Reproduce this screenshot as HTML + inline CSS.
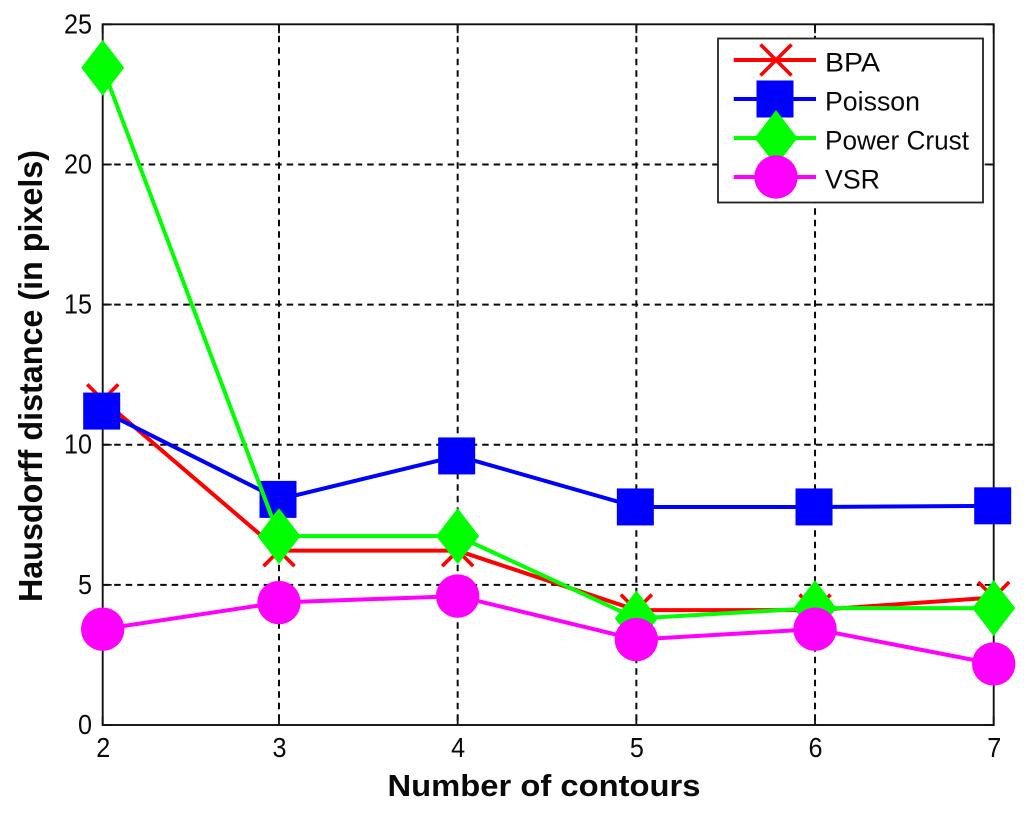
<!DOCTYPE html>
<html lang="en">
<head>
<meta charset="utf-8">
<title>Hausdorff distance vs number of contours</title>
<style>
html,body{margin:0;padding:0;background:#fff;width:1024px;height:824px;overflow:hidden}
svg{display:block}
text{font-family:"Liberation Sans",sans-serif;fill:#0a0a0a}
</style>
</head>
<body>
<svg id="chart" width="1024" height="824" viewBox="0 0 1024 824" xmlns="http://www.w3.org/2000/svg">
  <rect x="0" y="0" width="1024" height="824" fill="#fff"/>
  <g id="grid"></g>
  <g id="axes"></g>
  <g id="series"></g>
  <text x="544" y="796" text-anchor="middle" font-size="31" font-weight="bold" textLength="313" lengthAdjust="spacingAndGlyphs">Number of contours</text>
  <text transform="translate(42,376) rotate(-90)" text-anchor="middle" font-size="33" font-weight="bold" textLength="452" lengthAdjust="spacingAndGlyphs">Hausdorff distance (in pixels)</text>
  <g id="legend">
    <rect x="718" y="38.5" width="265" height="164" fill="#fff" stroke="#222" stroke-width="1.8"/>
  </g>
</svg>
<script>
const contours = [2, 3, 4, 5, 6, 7];
const yTicks = [0, 5, 10, 15, 20, 25];
const bpa = [11.6, 6.22, 6.22, 4.1, 4.1, 4.55];
const poisson = [11.2, 8.05, 9.6, 7.78, 7.78, 7.82];
const powerCrust = [23.45, 6.74, 6.74, 3.8, 4.17, 4.17];
const vsr = [3.42, 4.37, 4.6, 3.05, 3.42, 2.18];
const seriesNames = ['BPA', 'Poisson', 'Power Crust', 'VSR'];

const NS = 'http://www.w3.org/2000/svg';
const plot = {left: 102.7, right: 993.7, top: 24.3, bottom: 725};
const xMin = contours[0];
const xMax = contours[contours.length - 1];
const yMax = yTicks[yTicks.length - 1];
const x3Pixel = 279;
/* The source axis has a slightly shorter first interval, so the scale has two linear parts. */
function xScale(v) {
  if (v <= xMin + 1) return plot.left + (v - xMin) * (x3Pixel - plot.left);
  return x3Pixel + (v - xMin - 1) / (xMax - xMin - 1) * (plot.right - x3Pixel);
}
function yScale(v) { return plot.bottom - v / yMax * (plot.bottom - plot.top); }

function make(parent, tag, attrs) {
  const el = document.createElementNS(NS, tag);
  for (const k in attrs) el.setAttribute(k, attrs[k]);
  parent.appendChild(el);
  return el;
}

function drawMarker(parent, kind, cx, cy, color) {
  let m;
  if (kind === 'x') {
    const r = 15.5;
    m = make(parent, 'path', {d: `M${cx - r} ${cy - r}L${cx + r} ${cy + r}M${cx - r} ${cy + r}L${cx + r} ${cy - r}`, stroke: color, 'stroke-width': 3.6, fill: 'none'});
  } else if (kind === 'square') {
    m = make(parent, 'rect', {x: cx - 19.5, y: cy - 18.5, width: 37, height: 37, fill: color});
  } else if (kind === 'diamond') {
    m = make(parent, 'polygon', {points: `${cx},${cy - 28} ${cx + 21.5},${cy} ${cx},${cy + 28} ${cx - 21.5},${cy}`, fill: color});
  } else {
    m = make(parent, 'circle', {cx: cx, cy: cy, r: 21.7, fill: color});
  }
  return m;
}

const gridG = document.getElementById('grid');
const axesG = document.getElementById('axes');

/* grid */
contours.slice(1, -1).forEach(function (c) {
  const line = make(gridG, 'line', {x1: xScale(c), x2: xScale(c), y1: plot.top, y2: plot.bottom, stroke: '#0a0a0a', 'stroke-width': 2, 'stroke-dasharray': '6.5 5'});
  
  
});
yTicks.slice(1, -1).forEach(function (t) {
  const line = make(gridG, 'line', {x1: plot.left, x2: plot.right, y1: yScale(t), y2: yScale(t), stroke: '#0a0a0a', 'stroke-width': 2, 'stroke-dasharray': '6.5 5'});
  
  
});

/* frame */
const frame = make(axesG, 'rect', {x: plot.left, y: plot.top, width: plot.right - plot.left, height: plot.bottom - plot.top, fill: 'none', stroke: '#111', 'stroke-width': 1.9});



/* ticks and labels */
contours.forEach(function (c) {
  const x = xScale(c);
  const t1 = make(axesG, 'path', {d: `M${x} ${plot.bottom}v-9M${x} ${plot.top}v9`, stroke: '#111', 'stroke-width': 1.8, fill: 'none'});
  
  
  const label = make(axesG, 'text', {x: x + 0.5, y: 757, 'text-anchor': 'middle', 'font-size': 28, textLength: 14, lengthAdjust: 'spacingAndGlyphs'});
  
  
  label.textContent = c;
});
yTicks.forEach(function (t) {
  const y = yScale(t);
  const t1 = make(axesG, 'path', {d: `M${plot.left} ${y}h9M${plot.right} ${y}h-9`, stroke: '#111', 'stroke-width': 1.8, fill: 'none'});
  
  
  const label = make(axesG, 'text', {x: 92, y: y + 9, 'text-anchor': 'end', 'font-size': 28, textLength: 14 * String(t).length, lengthAdjust: 'spacingAndGlyphs'});
  
  
  label.textContent = t;
});

/* series */
const seriesList = [
  {name: seriesNames[0], values: bpa, color: '#ff0000', kind: 'x', labelWidth: 55},
  {name: seriesNames[1], values: poisson, color: '#0000ff', kind: 'square', labelWidth: 95},
  {name: seriesNames[2], values: powerCrust, color: '#00ff00', kind: 'diamond', labelWidth: 144},
  {name: seriesNames[3], values: vsr, color: '#ff00ff', kind: 'circle', labelWidth: 55}
];
const seriesG = document.getElementById('series');
const legendG = document.getElementById('legend');
seriesList.forEach(function (s, i) {
  const g = make(seriesG, 'g', {});
  
  
  const pts = s.values.map(function (v, j) { return xScale(contours[j]) + ',' + yScale(v); }).join(' ');
  const line = make(g, 'polyline', {points: pts, fill: 'none', stroke: s.color, 'stroke-width': 4, 'stroke-linejoin': 'miter'});
  
  
  s.values.forEach(function (v, j) {
    const m = drawMarker(g, s.kind, xScale(contours[j]), yScale(v), s.color);
    
    
  });

  const ly = 60 + i * 39;
  const entry = make(legendG, 'g', {});
  
  
  const sw = make(entry, 'line', {x1: 733.7, x2: 816, y1: ly, y2: ly, stroke: s.color, 'stroke-width': 4});
  
  
  const lm = drawMarker(entry, s.kind, 776, ly, s.color);
  
  
  const tx = make(entry, 'text', {x: 825, y: ly + 11.7, 'font-size': 27, textLength: s.labelWidth, lengthAdjust: 'spacingAndGlyphs'});
  
  
  tx.textContent = s.name;
});
</script>
</body>
</html>
